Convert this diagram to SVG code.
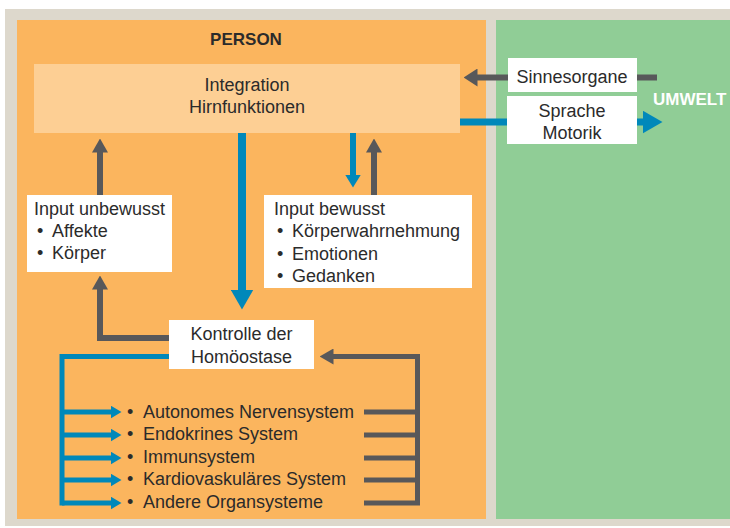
<svg xmlns="http://www.w3.org/2000/svg" width="730" height="528" viewBox="0 0 730 528">
<style>
.t{font-family:"Liberation Sans",Arial,sans-serif;font-size:18px;fill:#2b2b2b}
.b{font-weight:bold}
.box{fill:#ffffff}
.g{fill:none;stroke:#58585a;stroke-width:6}
.gt{fill:none;stroke:#58585a;stroke-width:5}
.bl{fill:none;stroke:#0088ba;stroke-width:7}
.bt{fill:none;stroke:#0088ba;stroke-width:5}
</style>
<defs>
<marker id="hg" markerUnits="userSpaceOnUse" viewBox="0 0 14 16" markerWidth="14" markerHeight="16" refX="0.5" refY="8" orient="auto"><path d="M0,0 L14,8 L0,16 z" fill="#58585a"/></marker>
<marker id="hgl" markerUnits="userSpaceOnUse" viewBox="0 0 14 18" markerWidth="14" markerHeight="18" refX="0.5" refY="9" orient="auto"><path d="M0,0 L14,9 L0,18 z" fill="#58585a"/></marker>
<marker id="hbs" markerUnits="userSpaceOnUse" viewBox="0 0 13 16" markerWidth="13" markerHeight="16" refX="0.5" refY="8" orient="auto"><path d="M0,0 L13,8 L0,16 z" fill="#0088ba"/></marker>
<marker id="hbb" markerUnits="userSpaceOnUse" viewBox="0 0 20 23" markerWidth="20" markerHeight="23" refX="0.5" refY="11.5" orient="auto"><path d="M0,0 L20,11.5 L0,23 z" fill="#0088ba"/></marker>
<marker id="hbt" markerUnits="userSpaceOnUse" viewBox="0 0 11 13" markerWidth="11" markerHeight="13" refX="0.5" refY="6.5" orient="auto"><path d="M0,0 L11,6.5 L0,13 z" fill="#0088ba"/></marker>
</defs>
<rect x="5" y="9" width="725" height="517" fill="#ddd8cc"/>
<rect id="person" x="17" y="20" width="469" height="499" fill="#fbb55e"/>
<rect id="umwelt" x="496" y="20" width="234" height="499" fill="#90cd96"/>
<text class="t b" x="246" y="45" text-anchor="middle" style="font-size:17px">PERSON</text>
<text class="t b" x="653" y="105" style="fill:#ffffff;font-size:17px">UMWELT</text>
<g id="connectors">
<path class="g" d="M657,77.5 H477" marker-end="url(#hgl)"/>
<path class="bl" d="M460,122 H643" marker-end="url(#hbb)"/>
<path class="bl" d="M242,133 V290" style="stroke-width:8" marker-end="url(#hbb)"/>
<path class="bl" d="M353,133 V175" style="stroke-width:6" marker-end="url(#hbs)"/>
<path class="g" d="M374,195 V152" marker-end="url(#hg)"/>
<path class="g" d="M100,195 V152" marker-end="url(#hg)"/>
<path class="g" d="M170,338 H100 V289" marker-end="url(#hg)"/>
<path class="bt" d="M170,356.5 H62 V505.5"/>
<path class="bt" d="M62,412 H111" marker-end="url(#hbt)"/>
<path class="bt" d="M62,435 H111" marker-end="url(#hbt)"/>
<path class="bt" d="M62,458 H111" marker-end="url(#hbt)"/>
<path class="bt" d="M62,480 H111" marker-end="url(#hbt)"/>
<path class="bt" d="M62,503 H111" marker-end="url(#hbt)"/>
<path class="gt" d="M364,412 H415"/>
<path class="gt" d="M364,435 H415"/>
<path class="gt" d="M364,458 H418"/>
<path class="gt" d="M364,480 H415"/>
<path class="gt" d="M364,503 H417.5 V356.5 H333" marker-end="url(#hg)"/>
</g>
<g id="integration">
<rect x="34" y="64" width="426" height="69" fill="#fdcf94"/>
<text class="t" x="247" y="91" text-anchor="middle">Integration</text>
<text class="t" x="247" y="113" text-anchor="middle">Hirnfunktionen</text>
</g>
<g id="sinnesorgane">
<rect class="box" x="508" y="58" width="129" height="34"/>
<text class="t" x="572" y="83" text-anchor="middle">Sinnesorgane</text>
</g>
<g id="sprache-motorik">
<rect class="box" x="507" y="96" width="130" height="48"/>
<text class="t" x="572" y="117" text-anchor="middle">Sprache</text>
<text class="t" x="572" y="139" text-anchor="middle">Motorik</text>
</g>
<g id="input-unbewusst">
<rect class="box" x="27" y="195" width="145" height="77"/>
<text class="t" x="34" y="215">Input unbewusst</text>
<text class="t" y="237"><tspan x="37">•</tspan><tspan x="52">Affekte</tspan></text>
<text class="t" y="259"><tspan x="37">•</tspan><tspan x="52">Körper</tspan></text>
</g>
<g id="input-bewusst">
<rect class="box" x="264" y="195" width="208" height="93"/>
<text class="t" x="274" y="215">Input bewusst</text>
<text class="t" y="237"><tspan x="277">•</tspan><tspan x="292">Körperwahrnehmung</tspan></text>
<text class="t" y="259.5"><tspan x="277">•</tspan><tspan x="292">Emotionen</tspan></text>
<text class="t" y="282"><tspan x="277">•</tspan><tspan x="292">Gedanken</tspan></text>
</g>
<g id="kontrolle">
<rect class="box" x="169" y="320" width="145" height="49"/>
<text class="t" x="241.5" y="340" text-anchor="middle">Kontrolle der</text>
<text class="t" x="241.5" y="363" text-anchor="middle">Homöostase</text>
</g>
<g id="organsysteme">
<text class="t" y="417.5"><tspan x="127">•</tspan><tspan x="143">Autonomes Nervensystem</tspan></text>
<text class="t" y="440"><tspan x="127">•</tspan><tspan x="143">Endokrines System</tspan></text>
<text class="t" y="462.5"><tspan x="127">•</tspan><tspan x="143">Immunsystem</tspan></text>
<text class="t" y="485"><tspan x="127">•</tspan><tspan x="143">Kardiovaskuläres System</tspan></text>
<text class="t" y="507.5"><tspan x="127">•</tspan><tspan x="143">Andere Organsysteme</tspan></text>
</g>
</svg>
